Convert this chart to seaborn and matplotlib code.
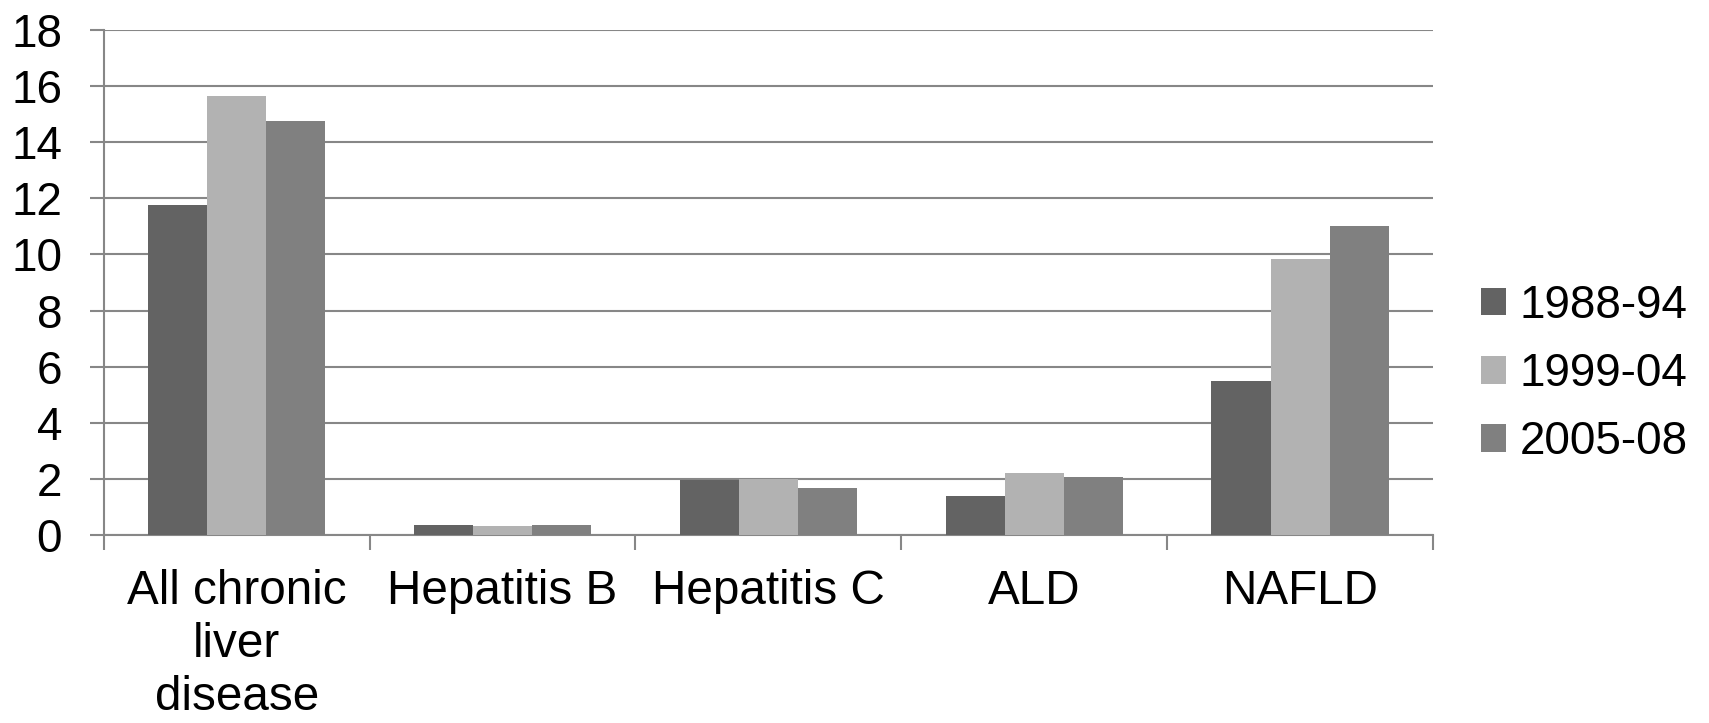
import matplotlib
matplotlib.use("Agg")
import matplotlib.pyplot as plt
import seaborn as sns
import pandas as pd
import numpy as np

categories = ["All chronic\nliver\ndisease", "Hepatitis B", "Hepatitis C", "ALD", "NAFLD"]
periods = ["1988-94", "1999-04", "2005-08"]
vals_1988_94 = [11.78, 0.35, 1.95, 1.37, 5.49]
vals_1999_04 = [15.65, 0.32, 1.98, 2.19, 9.83]
vals_2005_08 = [14.78, 0.34, 1.68, 2.05, 11.01]
colors = ["#636363", "#b2b2b2", "#808080"]
yticks = [0, 2, 4, 6, 8, 10, 12, 14, 16, 18]

rows = []
for p, vals in zip(periods, [vals_1988_94, vals_1999_04, vals_2005_08]):
    for c, v in zip(categories, vals):
        rows.append({"category": c, "period": p, "value": v})
df = pd.DataFrame(rows)

sns.set_style("white")
plt.rcParams["font.family"] = ["Liberation Sans", "DejaVu Sans"]
plt.rcParams["text.color"] = "black"
plt.rcParams["xtick.labelcolor"] = "black"
plt.rcParams["ytick.labelcolor"] = "black"

W, H = 1709, 723
fig = plt.figure(figsize=(W / 100, H / 100), dpi=100)
ax = fig.add_axes([103.7 / W, 1 - 534.6 / H, (1433 - 103.7) / W, (534.6 - 30.4) / H])

sns.barplot(data=df, x="category", y="value", hue="period", order=categories,
            hue_order=periods, palette=colors, width=0.667, gap=0,
            saturation=1, linewidth=0, ax=ax, zorder=3)

grid_c = "#878787"
ax.set_ylim(0, 18)
ax.set_xlim(-0.5, 4.5)
ax.set_yticks(yticks)
ax.set_yticklabels([str(t) for t in yticks])
ax.yaxis.grid(True, color=grid_c, linewidth=1.5, zorder=0)
ax.set_axisbelow(True)
ax.set_xlabel("")
ax.set_ylabel("")

for s in ["top", "right"]:
    ax.spines[s].set_visible(False)
for s in ["left", "bottom"]:
    ax.spines[s].set_color(grid_c)
    ax.spines[s].set_linewidth(1.5)

ax.tick_params(axis="y", which="major", length=10, width=1.5, color=grid_c,
               labelsize=33, pad=20, left=True, labelcolor="black")
ax.tick_params(axis="x", which="major", length=0, labelsize=34.3, pad=25,
               labelcolor="black")
ax.set_xticks(np.arange(-0.5, 5, 1.0), minor=True)
ax.tick_params(axis="x", which="minor", length=11, width=1.5, color=grid_c, bottom=True)
for lab in ax.get_xticklabels():
    lab.set_linespacing(1.22)

leg = ax.legend(loc="center left", bbox_to_anchor=(1481 / W, 1 - 374 / H),
                bbox_transform=fig.transFigure, frameon=False, fontsize=33,
                handlelength=0.55, handleheight=0.55, handletextpad=0.3,
                labelspacing=0.53, borderpad=0, borderaxespad=0)
for h in leg.legend_handles:
    h.set_linewidth(0)
for t in leg.get_texts():
    t.set_color("black")

fig.savefig("out.png", dpi=100, facecolor="white")
